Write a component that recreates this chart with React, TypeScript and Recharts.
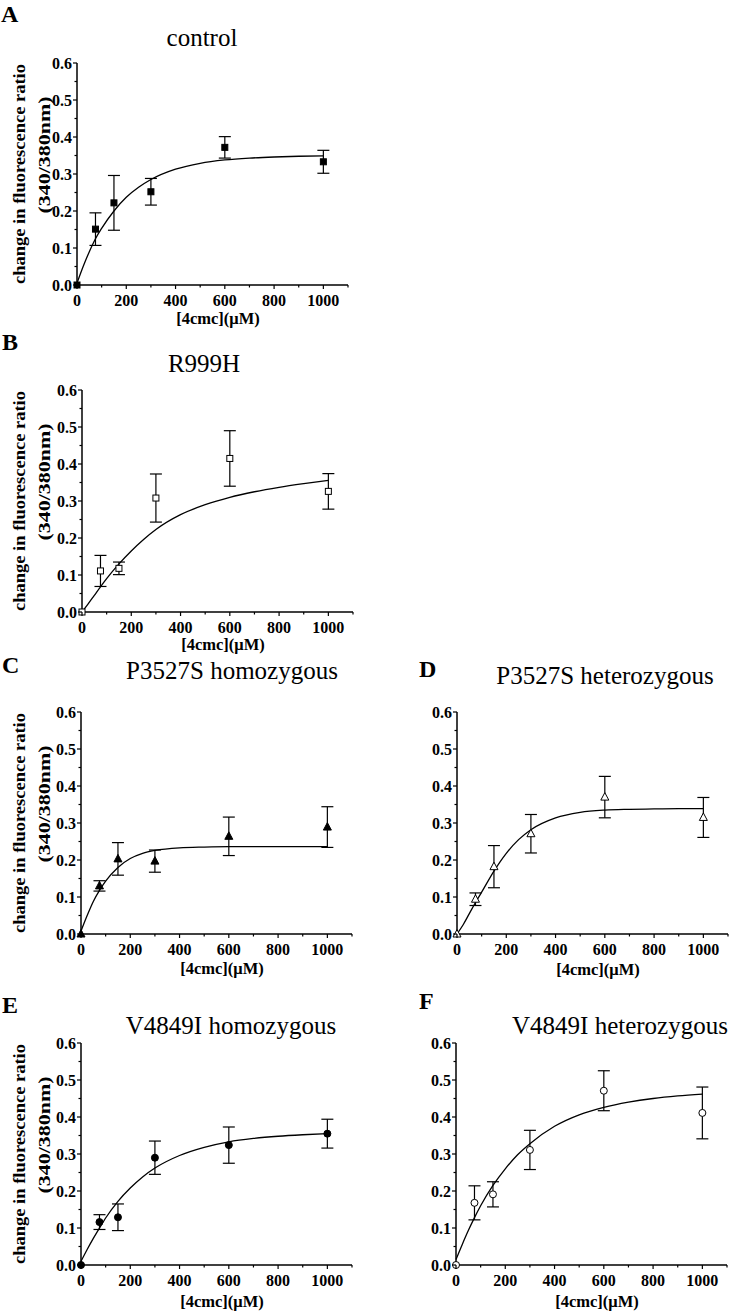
import { ComposedChart, Line, Scatter, ErrorBar, XAxis, YAxis } from 'recharts';

// concentrations of 4cmc (µM) where the responses were measured
const conc = [0, 75, 150, 300, 600, 1000];
const fitConc = [0, 25, 50, 75, 100, 150, 200, 250, 300, 400, 500, 600, 700, 800, 900, 1000];

const xTicks = [0, 100, 200, 300, 400, 500, 600, 700, 800, 900, 1000, 1100];
const yTicks = [0, 0.05, 0.1, 0.15, 0.2, 0.25, 0.3, 0.35, 0.4, 0.45, 0.5, 0.55, 0.6];

const controlMean = [0, 0.151, 0.222, 0.252, 0.372, 0.333];
const controlErr = [0, 0.044, 0.074, 0.036, 0.029, 0.031];
const controlFit = [0.005, 0.05, 0.09, 0.125, 0.153, 0.2, 0.237, 0.264, 0.285, 0.313, 0.329, 0.338, 0.343, 0.346, 0.348, 0.349];

const r999hMean = [0, 0.111, 0.118, 0.308, 0.415, 0.326];
const r999hErr = [0, 0.042, 0.017, 0.065, 0.075, 0.048];
const r999hFit = [0, 0.022, 0.045, 0.068, 0.09, 0.13, 0.165, 0.196, 0.223, 0.263, 0.29, 0.31, 0.325, 0.337, 0.347, 0.356];

const p3527HomoMean = [0, 0.13, 0.203, 0.197, 0.264, 0.289];
const p3527HomoErr = [0, 0.014, 0.044, 0.03, 0.052, 0.055];
const p3527HomoFit = [0.008, 0.05, 0.088, 0.118, 0.143, 0.18, 0.204, 0.218, 0.226, 0.233, 0.235, 0.236, 0.236, 0.236, 0.236, 0.236];

const p3527HetMean = [0, 0.094, 0.182, 0.271, 0.37, 0.315];
const p3527HetErr = [0, 0.017, 0.057, 0.052, 0.056, 0.054];
const p3527HetFit = [0, 0.025, 0.055, 0.085, 0.113, 0.17, 0.218, 0.255, 0.282, 0.314, 0.329, 0.335, 0.337, 0.338, 0.339, 0.339];

const v4849HomoMean = [0, 0.116, 0.129, 0.29, 0.324, 0.355];
const v4849HomoErr = [0, 0.02, 0.036, 0.045, 0.049, 0.039];
const v4849HomoFit = [0.01, 0.042, 0.072, 0.1, 0.127, 0.172, 0.208, 0.238, 0.262, 0.296, 0.318, 0.333, 0.342, 0.348, 0.352, 0.355];

const v4849HetMean = [0, 0.168, 0.191, 0.311, 0.471, 0.411];
const v4849HetErr = [0, 0.046, 0.034, 0.053, 0.054, 0.07];
const v4849HetFit = [0.015, 0.055, 0.093, 0.128, 0.16, 0.215, 0.26, 0.298, 0.328, 0.375, 0.406, 0.426, 0.44, 0.45, 0.457, 0.462];

const SERIF = '"Liberation Serif", "Times New Roman", Times, serif';
const PLOT_W = 271;
const PLOT_H = 222;
const AXIS_W = 60;
const AXIS_H = 30;

const panels = [
  { letter: 'A', title: 'control', mean: controlMean, err: controlErr, fit: controlFit, marker: 'square',
    axisX: 77, top: 63, yLabel: true, letterX: 1, letterY: 22, titleX: 202, titleY: 46, anchor: 'middle', xLabelY: 324 },
  { letter: 'B', title: 'R999H', mean: r999hMean, err: r999hErr, fit: r999hFit, marker: 'squareOpen',
    axisX: 82, top: 390, yLabel: true, letterX: 2, letterY: 350, titleX: 204, titleY: 372, anchor: 'middle', xLabelY: 650 },
  { letter: 'C', title: 'P3527S homozygous', mean: p3527HomoMean, err: p3527HomoErr, fit: p3527HomoFit, marker: 'triangle',
    axisX: 81, top: 712, yLabel: true, letterX: 2, letterY: 673, titleX: 232, titleY: 679, anchor: 'middle', xLabelY: 974 },
  { letter: 'D', title: 'P3527S heterozygous', mean: p3527HetMean, err: p3527HetErr, fit: p3527HetFit, marker: 'triangleOpen',
    axisX: 457, top: 712, yLabel: false, letterX: 419, letterY: 677, titleX: 605, titleY: 684, anchor: 'middle', xLabelY: 975 },
  { letter: 'E', title: 'V4849I homozygous', mean: v4849HomoMean, err: v4849HomoErr, fit: v4849HomoFit, marker: 'circle',
    axisX: 81, top: 1043, yLabel: true, letterX: 2, letterY: 1013, titleX: 231, titleY: 1034, anchor: 'middle', xLabelY: 1307 },
  { letter: 'F', title: 'V4849I heterozygous', mean: v4849HetMean, err: v4849HetErr, fit: v4849HetFit, marker: 'circleOpen',
    axisX: 456, top: 1043, yLabel: false, letterX: 419, letterY: 1009, titleX: 512, titleY: 1034, anchor: 'start', xLabelY: 1307 },
];

const XTick = ({ x, y, payload }: any) => {
  const v = payload.value;
  const major = v % 200 === 0 && v <= 1000;
  return (
    <g>
      <line x1={x} y1={y} x2={x} y2={y + (major ? 4 : 2.5)} stroke="#000" strokeWidth={1.2} />
      {major && (
        <text x={x} y={y + 21} textAnchor="middle" fontFamily={SERIF} fontWeight="bold" fontSize={16} fill="#000">
          {v}
        </text>
      )}
    </g>
  );
};

const YTick = ({ x, y, payload }: any) => {
  const v = payload.value;
  const major = Math.round(v * 100) % 10 === 0;
  return (
    <g>
      <line x1={x} y1={y} x2={x - (major ? 4 : 2.5)} y2={y} stroke="#000" strokeWidth={1.2} />
      {major && (
        <text x={x - 5} y={y + 5.5} textAnchor="end" fontFamily={SERIF} fontWeight="bold" fontSize={16} fill="#000">
          {v.toFixed(1)}
        </text>
      )}
    </g>
  );
};

const makeShape = (kind: string) => (props: any) => {
  const { cx, cy } = props;
  if (cx == null || cy == null) return <g />;
  const fill = kind.endsWith('Open') ? '#fff' : '#000';
  if (kind.startsWith('square')) {
    return <rect x={cx - 3} y={cy - 3} width={6} height={6} fill={fill} stroke="#000" strokeWidth={1} />;
  }
  if (kind.startsWith('triangle')) {
    return (
      <polygon
        points={`${cx},${cy - 4.5} ${cx - 4},${cy + 3} ${cx + 4},${cy + 3}`}
        fill={fill}
        stroke="#000"
        strokeWidth={1}
      />
    );
  }
  return <circle cx={cx} cy={cy} r={3.5} fill={fill} stroke="#000" strokeWidth={1} />;
};

function Panel({ p }: { p: any }) {
  const points = conc.map((x, i) => ({ x, y: p.mean[i], err: p.err[i] }));
  const curve = fitConc.map((x, i) => ({ x, y: p.fit[i] }));
  return (
    <div style={{ position: 'absolute', left: p.axisX - AXIS_W, top: p.top - 10 }}>
      <ComposedChart
        width={AXIS_W + PLOT_W + 4}
        height={10 + PLOT_H + AXIS_H}
        margin={{ top: 10, left: 0, right: 4, bottom: 0 }}
      >
        <XAxis
          type="number"
          dataKey="x"
          domain={[0, 1100]}
          ticks={xTicks}
          interval={0}
          height={AXIS_H}
          tickSize={0}
          tickMargin={0}
          tickLine={false}
          tick={<XTick />}
          axisLine={{ stroke: '#000', strokeWidth: 1.5 }}
        />
        <YAxis
          type="number"
          domain={[0, 0.6]}
          ticks={yTicks}
          interval={0}
          width={AXIS_W}
          tickSize={0}
          tickMargin={0}
          tickLine={false}
          tick={<YTick />}
          axisLine={{ stroke: '#000', strokeWidth: 1.5 }}
        />
        <Line
          data={curve}
          dataKey="y"
          type="monotone"
          dot={false}
          stroke="#000"
          strokeWidth={1.3}
          isAnimationActive={false}
        />
        <Scatter data={points} dataKey="y" shape={makeShape(p.marker)} isAnimationActive={false}>
          <ErrorBar dataKey="err" direction="y" width={6} stroke="#000" strokeWidth={1.2} />
        </Scatter>
      </ComposedChart>
    </div>
  );
}

export default function App() {
  return (
    <div style={{ position: 'absolute', left: 0, top: 0, width: 729, height: 1311, overflow: 'hidden', background: '#fff' }}>
      {panels.map((p) => (
        <Panel key={p.letter} p={p} />
      ))}
      <svg width={729} height={1311} style={{ position: 'absolute', left: 0, top: 0, pointerEvents: 'none' }}>
        {panels.map((p) => {
          const cy = p.top + PLOT_H / 2;
          return (
            <g key={p.letter} fill="#000" fontFamily={SERIF}>
              <text x={p.letterX} y={p.letterY} fontSize={24} fontWeight="bold">{p.letter}</text>
              <text x={p.titleX} y={p.titleY} fontSize={25} textAnchor={p.anchor}>{p.title}</text>
              <text x={p.axisX + 141} y={p.xLabelY} fontSize={16.5} fontWeight="bold" textAnchor="middle">
                [4cmc](μM)
              </text>
              {p.yLabel && (
                <>
                  <text
                    transform={`translate(25, ${cy}) rotate(-90)`}
                    fontSize={17}
                    fontWeight="bold"
                    textAnchor="middle"
                    textLength={220}
                    lengthAdjust="spacingAndGlyphs"
                  >
                    change in fluorescence ratio
                  </text>
                  <text
                    transform={`translate(50, ${cy - 19}) rotate(-90)`}
                    fontSize={17}
                    fontWeight="bold"
                    textAnchor="middle"
                    textLength={117}
                    lengthAdjust="spacingAndGlyphs"
                  >
                    (340/380nm)
                  </text>
                </>
              )}
            </g>
          );
        })}
      </svg>
    </div>
  );
}
